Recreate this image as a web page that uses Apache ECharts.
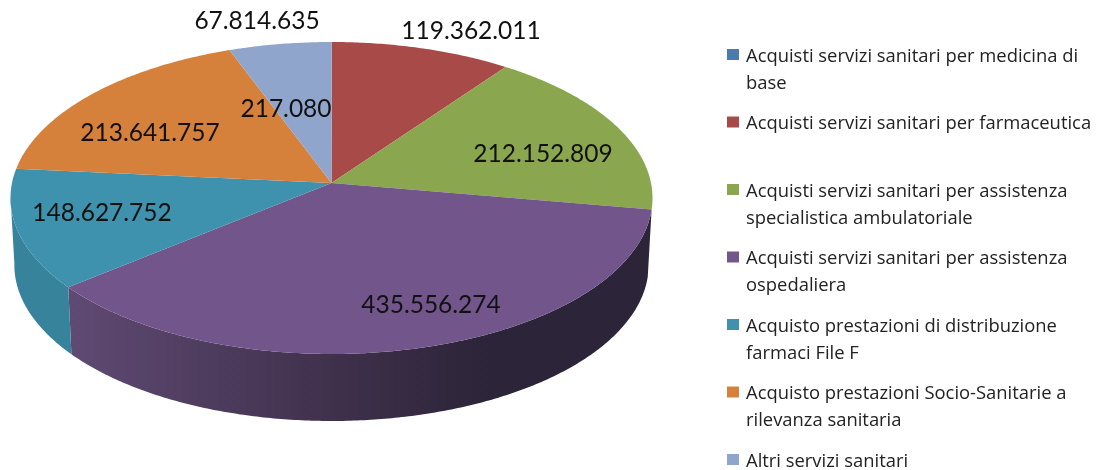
<!DOCTYPE html>
<html>
<head>
<meta charset="utf-8">
<style>html,body{margin:0;padding:0;background:#fff}#c{width:1099px;height:470px}</style>
<script src="https://cdn.jsdelivr.net/npm/echarts@6/dist/echarts.min.js"></script>
</head>
<body>
<div id="c"></div>
<script>
const categories = [
  "Acquisti servizi sanitari per medicina di base",
  "Acquisti servizi sanitari per farmaceutica",
  "Acquisti servizi sanitari per assistenza specialistica ambulatoriale",
  "Acquisti servizi sanitari per assistenza ospedaliera",
  "Acquisto prestazioni di distribuzione farmaci File F",
  "Acquisto prestazioni Socio-Sanitarie a rilevanza sanitaria",
  "Altri servizi sanitari"
];
const legendText = [
  "Acquisti servizi sanitari per medicina di\nbase",
  "Acquisti servizi sanitari per farmaceutica\n ",
  "Acquisti servizi sanitari per assistenza\nspecialistica ambulatoriale",
  "Acquisti servizi sanitari per assistenza\nospedaliera",
  "Acquisto prestazioni di distribuzione\nfarmaci File F",
  "Acquisto prestazioni Socio-Sanitarie a\nrilevanza sanitaria",
  "Altri servizi sanitari\n "
];
const values = [217080, 119362011, 212152809, 435556274, 148627752, 213641757, 67814635];
const valueLabels = ["217.080", "119.362.011", "212.152.809", "435.556.274", "148.627.752", "213.641.757", "67.814.635"];
const colors = ["#4a7ab0", "#a84a48", "#8aa64f", "#72558b", "#3f92ad", "#d5803b", "#8fa5cb"];
const labelCenters = [[286,109],[471,31],[543,154],[431,305],[102,213],[150,133],[257,21]];
const wallStops = [
  null, null, null,
  [[0,"#5f4a73"],[0.4,"#433350"],[0.72,"#2c2438"],[1,"#2c2438"]],
  [[0,"#37839b"],[1,"#377e94"]],
  null, null
];

// Tilted-disc projection
const cx = 331.5, cy = 198, rx = 321, ry = 156, depth = 67, p = 0.096, baseScale = 0.988;
const total = values.reduce((a, b) => a + b, 0);

function rim(theta) {
  const x = Math.sin(theta), y = Math.cos(theta);
  const d = 1 + p * y;
  return [cx + rx * x * Math.sqrt(1 - p * p) / d, cy - ry * (y + p) / d];
}
function arc(a0, a1) {
  const n = Math.max(2, Math.ceil((a1 - a0) / 0.01));
  const pts = [];
  for (let i = 0; i <= n; i++) pts.push(rim(a0 + (a1 - a0) * i / n));
  return pts;
}

function makeRender(idx) {
  return function (params, api) {
    const before = values.slice(0, idx).reduce((a, b) => a + b, 0);
    const a0 = before / total * 2 * Math.PI;
    const a1 = (before + api.value(0)) / total * 2 * Math.PI;
    const edge = arc(a0, a1);
    const apex = [cx, cy - ry * p];
    const children = [];
    // visible wall: the part of the rim on the near side
    const near = edge.filter(pt => pt[1] >= cy - 3);
    if (near.length > 1 && wallStops[idx]) {
      const lower = near.slice().reverse().map(pt => [cx + (pt[0] - cx) * baseScale, pt[1] + depth]);
      children.push({
        type: "polygon",
        shape: { points: near.concat(lower) },
        style: { fill: new echarts.graphic.LinearGradient(70, 0, 652, 0, wallStops[idx].map(s => ({ offset: s[0], color: s[1] })), true) }
      });
    }
    children.push({
      type: "polygon",
      z2: 5,
      shape: { points: [apex].concat(edge) },
      style: { fill: colors[idx] }
    });
    children.push({
      type: "text",
      z2: 100,
      x: labelCenters[idx][0],
      y: labelCenters[idx][1],
      style: {
        text: valueLabels[idx],
        fill: "#111",
        font: '24.5px Lato, "Open Sans", sans-serif',
        align: "center",
        verticalAlign: "middle"
      }
    });
    return { type: "group", children: children };
  };
}

const chart = echarts.init(document.getElementById("c"), null, { renderer: "canvas" });
chart.setOption({
  animation: false,
  backgroundColor: "#fff",
  legend: {
    orient: "vertical",
    left: 727,
    top: 43,
    height: 600,
    padding: 0,
    selectedMode: false,
    itemWidth: 12,
    itemHeight: 42,
    itemGap: 13.5,
    icon: "path://M0,0H12V11H0Z M0,42L0,42 M12,42L12,42",
    formatter: name => legendText[categories.indexOf(name)],
    textStyle: { fontFamily: '"Open Sans", Lato, sans-serif', fontSize: 18.4, lineHeight: 27, color: "#222", padding: [0, 0, 0, 2] },
    data: categories
  },
  series: categories.map((name, i) => ({
    type: "custom",
    name: name,
    coordinateSystem: "none",
    silent: true,
    itemStyle: { color: colors[i] },
    renderItem: makeRender(i),
    data: [[values[i]]]
  }))
});
</script>
</body>
</html>
